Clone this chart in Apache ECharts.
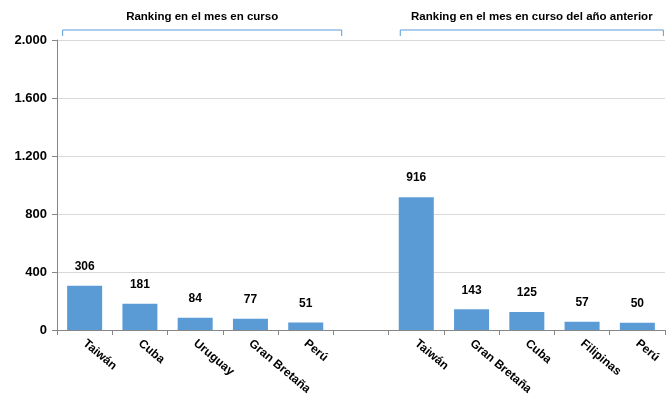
<!DOCTYPE html>
<html>
<head>
<meta charset="utf-8">
<script src="https://cdn.jsdelivr.net/npm/echarts@6/dist/echarts.min.js"></script>
<style>
	html, body { margin: 0; padding: 0; background: #fff; }
	#chart { width: 668px; height: 401px; }
</style>
</head>
<body>
<div id="chart"></div>
<script>
// categorias: 5 del mes en curso, hueco, 5 del año anterior
var paises = ['Taiwán', 'Cuba', 'Uruguay', 'Gran Bretaña', 'Perú', '',
	'Taiwán', 'Gran Bretaña', 'Cuba', 'Filipinas', 'Perú'];
var valores = [306, 181, 84, 77, 51, null, 916, 143, 125, 57, 50];
var yTicks = [0, 400, 800, 1200, 1600, 2000];
var grupos = ['Ranking en el mes en curso', 'Ranking en el mes en curso del año anterior'];

var fuente = 'Liberation Sans';
var chart = echarts.init(document.getElementById('chart'));

function miles(v) {
	return String(v).replace(/\B(?=(\d{3})+(?!\d))/g, '.');
}

var option = {
	animation : false,
	grid : {
		left : 57,
		right : 3,
		top : 40,
		bottom : 71
	},
	xAxis : {
		type : 'category',
		data : paises,
		axisLine : { lineStyle : { color : '#868686' } },
		axisTick : { show : true, length : 5, lineStyle : { color : '#868686' } },
		axisLabel : {
			rotate : -40,
			interval : 0,
			margin : 12,
			color : '#000',
			fontFamily : fuente,
			fontWeight : 'bold',
			fontSize : 12
		}
	},
	yAxis : {
		type : 'value',
		min : yTicks[0],
		max : yTicks[yTicks.length - 1],
		interval : yTicks[1] - yTicks[0],
		axisLine : { show : true, lineStyle : { color : '#868686' } },
		axisTick : { show : true, length : 5, lineStyle : { color : '#868686' } },
		splitLine : { lineStyle : { color : '#d9d9d9' } },
		axisLabel : {
			margin : 10,
			color : '#000',
			fontFamily : fuente,
			fontWeight : 'bold',
			fontSize : 13,
			formatter : miles
		}
	},
	series : [ {
		type : 'bar',
		data : valores,
		barWidth : 35,
		itemStyle : { color : '#5b9bd5' },
		label : {
			show : true,
			position : 'top',
			distance : 13,
			color : '#000',
			fontFamily : fuente,
			fontWeight : 'bold',
			fontSize : 12,
			formatter : function(p) { return miles(p.value); }
		}
	} ]
};
chart.setOption(option);

// llaves de los dos grupos, a partir de las posiciones de las categorias
function llave(desde, hasta, izq, der, texto) {
	var x1 = chart.convertToPixel({ xAxisIndex : 0 }, desde) - izq;
	var x2 = chart.convertToPixel({ xAxisIndex : 0 }, hasta) + der;
	return [ {
		type : 'polyline',
		shape : { points : [ [x1, 36], [x1, 30], [x2, 30], [x2, 36] ] },
		style : { stroke : '#5b9bd5', lineWidth : 1, fill : null }
	}, {
		type : 'text',
		x : (x1 + x2) / 2,
		y : 17,
		style : {
			text : texto,
			fill : '#000',
			font : 'bold 11.5px ' + fuente,
			align : 'center',
			verticalAlign : 'middle'
		}
	} ];
}
var g = llave(0, 4, 22, 36, grupos[0]).concat(llave(6, 10, 16, 26, grupos[1]));
chart.setOption({ graphic : g });
</script>
</body>
</html>
